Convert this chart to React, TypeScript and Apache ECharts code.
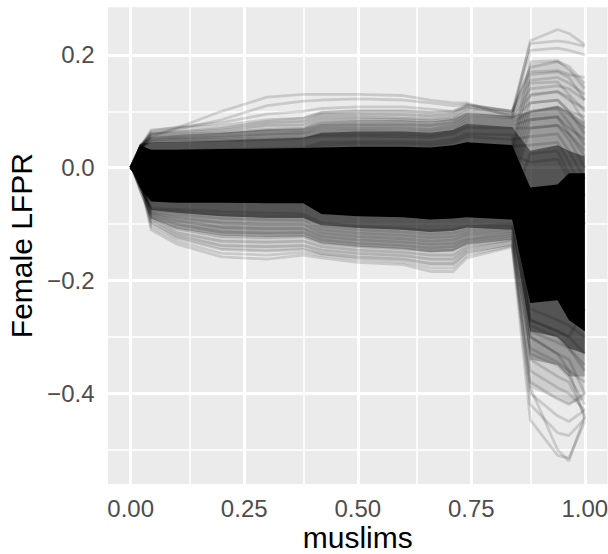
import React, { useEffect, useRef } from "react";
import * as echarts from "echarts";

// x grid of the ICE curves (muslims)
const X = [0, 0.02, 0.045, 0.1, 0.2, 0.3, 0.38, 0.42, 0.5, 0.6, 0.66, 0.71, 0.74, 0.84, 0.88, 0.94, 0.965, 1.0];

const xTicks = [0, 0.25, 0.5, 0.75, 1];
const xMinor = [0.125, 0.375, 0.625, 0.875];
const yTicks = [-0.4, -0.2, 0, 0.2];
const yMinor = [-0.5, -0.3, -0.1, 0.1];

// dense core of the curves (fully dark)
const coreUpper = [0, 0.04, 0.032, 0.032, 0.033, 0.034, 0.035, 0.036, 0.037, 0.037, 0.036, 0.04, 0.045, 0.04, -0.035, -0.03, -0.01, -0.01];
const coreLower = [0, -0.035, -0.06, -0.062, -0.062, -0.063, -0.063, -0.082, -0.086, -0.088, -0.092, -0.09, -0.088, -0.092, -0.24, -0.235, -0.27, -0.29];
// semi-dense halos around the core
const halo1Upper = [0, 0.042, 0.045, 0.046, 0.048, 0.051, 0.053, 0.062, 0.064, 0.064, 0.062, 0.067, 0.078, 0.072, 0.03, 0.04, 0.03, 0.02];
const halo1Lower = [0, -0.04, -0.075, -0.08, -0.086, -0.089, -0.089, -0.102, -0.107, -0.11, -0.114, -0.112, -0.106, -0.11, -0.29, -0.3, -0.32, -0.33];
const halo2Upper = [0, 0.042, 0.055, 0.058, 0.062, 0.068, 0.07, 0.082, 0.084, 0.084, 0.082, 0.087, 0.097, 0.092, 0.1, 0.11, 0.1, 0.08];
const halo2Lower = [0, -0.045, -0.09, -0.108, -0.12, -0.123, -0.122, -0.134, -0.14, -0.144, -0.15, -0.148, -0.136, -0.128, -0.34, -0.35, -0.37, -0.37];
const halo3Upper = [0, 0.042, 0.062, 0.066, 0.072, 0.085, 0.09, 0.1, 0.104, 0.104, 0.1, 0.1, 0.108, 0.1, 0.185, 0.19, 0.175, 0.15];
const halo3Lower = [0, -0.045, -0.1, -0.125, -0.145, -0.148, -0.145, -0.155, -0.162, -0.166, -0.175, -0.175, -0.152, -0.138, -0.39, -0.41, -0.42, -0.41];

// individual curves above the core
const upperCurves = [
  [0, 0.03, 0.055, 0.07, 0.1, 0.125, 0.13, 0.13, 0.13, 0.128, 0.12, 0.115, 0.115, 0.09, 0.225, 0.245, 0.238, 0.218],
  [0, 0.03, 0.06, 0.068, 0.085, 0.11, 0.118, 0.12, 0.122, 0.12, 0.115, 0.11, 0.112, 0.1, 0.22, 0.225, 0.222, 0.215],
  [0, 0.035, 0.065, 0.072, 0.08, 0.095, 0.1, 0.105, 0.108, 0.108, 0.104, 0.1, 0.108, 0.095, 0.208, 0.212, 0.208, 0.2],
  [0, 0.035, 0.067, 0.07, 0.075, 0.085, 0.088, 0.098, 0.1, 0.1, 0.098, 0.1, 0.112, 0.1, 0.178, 0.188, 0.18, 0.15],
  [0, 0.035, 0.062, 0.065, 0.07, 0.08, 0.082, 0.095, 0.095, 0.094, 0.092, 0.095, 0.11, 0.1, 0.17, 0.172, 0.165, 0.16],
  [0, 0.035, 0.06, 0.062, 0.066, 0.075, 0.076, 0.09, 0.09, 0.088, 0.086, 0.09, 0.105, 0.095, 0.155, 0.16, 0.15, 0.13],
  [0, 0.035, 0.058, 0.06, 0.062, 0.068, 0.07, 0.085, 0.086, 0.085, 0.083, 0.086, 0.1, 0.09, 0.14, 0.145, 0.14, 0.12],
  [0, 0.035, 0.055, 0.057, 0.06, 0.065, 0.066, 0.075, 0.076, 0.076, 0.075, 0.08, 0.095, 0.088, 0.128, 0.135, 0.12, 0.105],
  [0, 0.035, 0.052, 0.054, 0.056, 0.06, 0.062, 0.07, 0.07, 0.07, 0.068, 0.075, 0.09, 0.085, 0.115, 0.12, 0.1, 0.09],
  [0, 0.035, 0.05, 0.052, 0.054, 0.058, 0.06, 0.065, 0.066, 0.065, 0.064, 0.07, 0.085, 0.08, 0.1, 0.108, 0.095, 0.07],
  [0, 0.035, 0.048, 0.05, 0.05, 0.053, 0.055, 0.06, 0.06, 0.06, 0.058, 0.065, 0.08, 0.075, 0.085, 0.09, 0.07, 0.05],
  [0, 0.035, 0.046, 0.047, 0.048, 0.05, 0.052, 0.056, 0.056, 0.055, 0.054, 0.06, 0.072, 0.07, 0.07, 0.075, 0.06, 0.03],
];

// individual curves below the core
const lowerCurves = [
  [0, -0.02, -0.11, -0.135, -0.158, -0.162, -0.155, -0.16, -0.168, -0.172, -0.184, -0.184, -0.16, -0.14, -0.447, -0.51, -0.515, -0.45],
  [0, -0.02, -0.105, -0.13, -0.152, -0.155, -0.15, -0.156, -0.163, -0.168, -0.178, -0.178, -0.155, -0.138, -0.39, -0.5, -0.52, -0.44],
  [0, -0.02, -0.1, -0.125, -0.145, -0.148, -0.145, -0.152, -0.158, -0.162, -0.17, -0.17, -0.15, -0.135, -0.42, -0.47, -0.475, -0.445],
  [0, -0.02, -0.095, -0.12, -0.138, -0.14, -0.138, -0.146, -0.152, -0.156, -0.162, -0.162, -0.145, -0.13, -0.4, -0.44, -0.45, -0.43],
  [0, -0.02, -0.09, -0.115, -0.13, -0.132, -0.13, -0.14, -0.146, -0.15, -0.155, -0.155, -0.14, -0.128, -0.38, -0.41, -0.42, -0.4],
  [0, -0.02, -0.088, -0.108, -0.122, -0.124, -0.122, -0.134, -0.14, -0.144, -0.148, -0.146, -0.135, -0.124, -0.36, -0.39, -0.4, -0.43],
  [0, -0.02, -0.085, -0.1, -0.114, -0.116, -0.115, -0.128, -0.134, -0.138, -0.142, -0.14, -0.13, -0.12, -0.34, -0.37, -0.38, -0.44],
  [0, -0.02, -0.082, -0.094, -0.106, -0.108, -0.108, -0.122, -0.128, -0.132, -0.136, -0.134, -0.126, -0.116, -0.32, -0.345, -0.36, -0.445],
  [0, -0.02, -0.08, -0.088, -0.098, -0.1, -0.1, -0.116, -0.122, -0.126, -0.13, -0.128, -0.12, -0.112, -0.3, -0.33, -0.34, -0.4],
  [0, -0.02, -0.078, -0.083, -0.09, -0.092, -0.093, -0.11, -0.116, -0.12, -0.124, -0.122, -0.115, -0.108, -0.29, -0.31, -0.32, -0.36],
  [0, -0.02, -0.075, -0.078, -0.084, -0.086, -0.087, -0.104, -0.11, -0.114, -0.118, -0.116, -0.11, -0.104, -0.27, -0.29, -0.3, -0.33],
  [0, -0.02, -0.072, -0.074, -0.078, -0.08, -0.082, -0.098, -0.104, -0.108, -0.112, -0.11, -0.105, -0.1, -0.25, -0.27, -0.28, -0.3],
];

// curves inside the core that fan out on the right
const middleCurves = [
  [0, 0.035, 0.02, 0.02, 0.022, 0.024, 0.025, 0.03, 0.03, 0.03, 0.028, 0.03, 0.04, 0.035, 0.188, 0.19, 0.175, 0.14],
  [0, 0.03, 0.01, 0.012, 0.014, 0.015, 0.016, 0.02, 0.02, 0.02, 0.018, 0.022, 0.03, 0.028, 0.165, 0.17, 0.16, 0.12],
  [0, 0.025, 0.0, 0.002, 0.004, 0.005, 0.006, 0.01, 0.01, 0.01, 0.008, 0.012, 0.02, 0.018, 0.15, 0.152, 0.13, 0.1],
  [0, 0.02, -0.01, -0.008, -0.006, -0.005, -0.004, 0.0, 0.0, 0.0, -0.002, 0.002, 0.01, 0.008, 0.13, 0.135, 0.125, 0.08],
  [0, 0.015, -0.02, -0.018, -0.016, -0.015, -0.014, -0.01, -0.01, -0.01, -0.012, -0.008, 0.0, -0.002, 0.115, 0.12, 0.1, 0.06],
  [0, 0.01, -0.03, -0.028, -0.026, -0.025, -0.024, -0.02, -0.02, -0.02, -0.022, -0.018, -0.01, -0.012, 0.1, 0.105, 0.08, 0.04],
  [0, 0.005, -0.04, -0.038, -0.036, -0.035, -0.034, -0.03, -0.03, -0.03, -0.032, -0.028, -0.02, -0.022, 0.085, 0.09, 0.06, 0.02],
  [0, 0.0, -0.045, -0.046, -0.046, -0.045, -0.044, -0.045, -0.045, -0.046, -0.048, -0.045, -0.035, -0.035, 0.07, 0.075, 0.05, 0.0],
  [0, 0.03, 0.025, 0.026, 0.027, 0.028, 0.029, 0.04, 0.042, 0.042, 0.04, 0.045, 0.055, 0.05, 0.055, 0.06, 0.03, -0.02],
  [0, 0.025, 0.015, 0.016, 0.017, 0.018, 0.02, 0.03, 0.03, 0.03, 0.028, 0.032, 0.04, 0.038, 0.04, 0.045, 0.01, -0.05],
  [0, -0.005, -0.05, -0.052, -0.053, -0.054, -0.055, -0.065, -0.068, -0.07, -0.072, -0.07, -0.065, -0.065, 0.025, 0.03, -0.01, -0.08],
  [0, 0.02, 0.005, 0.006, 0.008, 0.01, 0.011, 0.015, 0.015, 0.015, 0.013, 0.016, 0.025, 0.022, 0.01, 0.015, -0.02, -0.1],
  [0, 0.03, 0.03, 0.03, 0.032, 0.034, 0.035, 0.045, 0.046, 0.046, 0.045, 0.05, 0.06, 0.058, -0.28, -0.3, -0.32, -0.35],
  [0, 0.02, 0.01, 0.01, 0.012, 0.013, 0.014, 0.02, 0.02, 0.02, 0.018, 0.022, 0.03, 0.028, -0.3, -0.33, -0.36, -0.38],
  [0, 0.01, -0.02, -0.02, -0.02, -0.02, -0.02, -0.03, -0.03, -0.03, -0.032, -0.03, -0.025, -0.025, -0.33, -0.35, -0.37, -0.42],
  [0, -0.01, -0.05, -0.05, -0.05, -0.05, -0.05, -0.06, -0.062, -0.064, -0.066, -0.064, -0.06, -0.06, -0.27, -0.29, -0.3, -0.25],
];

const FONT = "'Liberation Sans', Arial, Helvetica, sans-serif";

function bandSeries(upper: number[], lower: number[], fill: string, z: number) {
  return {
    type: "custom",
    coordinateSystem: "cartesian2d",
    data: [[X[0], upper[0]]],
    silent: true,
    clip: true,
    z,
    renderItem: (_params: any, api: any) => {
      const pts: number[][] = [];
      for (let i = 0; i < X.length; i++) pts.push(api.coord([X[i], upper[i]]));
      for (let i = X.length - 1; i >= 0; i--) pts.push(api.coord([X[i], lower[i]]));
      return { type: "polygon", shape: { points: pts }, style: { fill } };
    },
  };
}

function curveSeries(vals: number[]) {
  return {
    type: "line",
    data: X.map((x, i) => [x, vals[i]]),
    symbol: "none",
    showSymbol: false,
    silent: true,
    clip: true,
    z: 3,
    lineStyle: { color: "rgba(0,0,0,0.14)", width: 2.8 },
  };
}

export default function App() {
  const ref = useRef<HTMLDivElement>(null);
  useEffect(() => {
    document.body.style.margin = "0";
    if (!ref.current) return;
    const chart = echarts.init(ref.current, null, { renderer: "svg" });
    const gridLine = (w: number) => ({ color: "#ffffff", width: w, type: "solid" });
    const option: any = {
      animation: false,
      grid: {
        left: 108,
        right: 0.5,
        top: 7.3,
        bottom: 70,
        containLabel: false,
        outerBoundsMode: "none",
        show: true,
        backgroundColor: "#EBEBEB",
        borderWidth: 0,
      },
      xAxis: {
        type: "value",
        min: -0.05,
        max: 1.05,
        axisLine: { show: false },
        splitLine: { show: false },
        axisTick: { show: true, customValues: xTicks, length: 7.5, lineStyle: { color: "#333333", width: 3 } },
        axisLabel: {
          customValues: xTicks,
          formatter: (v: number) => v.toFixed(2),
          color: "#4D4D4D",
          fontSize: 24,
          fontFamily: FONT,
          margin: 12,
        },
        name: "muslims",
        nameLocation: "middle",
        nameGap: 38,
        nameMoveOverlap: false,
        nameTextStyle: { fontSize: 30, lineHeight: 30, color: "#000000", fontFamily: FONT },
      },
      yAxis: {
        type: "value",
        min: -0.5608,
        max: 0.2844,
        axisLine: { show: false },
        splitLine: { show: false },
        axisTick: { show: true, customValues: yTicks, length: 7.5, lineStyle: { color: "#333333", width: 3 } },
        axisLabel: {
          customValues: yTicks,
          formatter: (v: number) => (v < -1e-9 ? "\u2212" : "") + Math.abs(v).toFixed(1),
          color: "#4D4D4D",
          fontSize: 24,
          fontFamily: FONT,
          margin: 13.5,
        },
        name: "Female LFPR",
        nameLocation: "middle",
        nameGap: 72,
        nameRotate: 90,
        nameTextStyle: { fontSize: 30, color: "#000000", fontFamily: FONT },
      },
      series: [
        {
          type: "line",
          data: [],
          z: 1,
          silent: true,
          markLine: {
            z: 1,
            silent: true,
            symbol: ["none", "none"],
            label: { show: false },
            emphasis: { disabled: true },
            data: [
              ...xMinor.map((v) => ({ xAxis: v, lineStyle: gridLine(1.6) })),
              ...yMinor.map((v) => ({ yAxis: v, lineStyle: gridLine(1.6) })),
              ...xTicks.map((v) => ({ xAxis: v, lineStyle: gridLine(3) })),
              ...yTicks.map((v) => ({ yAxis: v, lineStyle: gridLine(3) })),
            ],
          },
        },
        bandSeries(halo3Upper, halo3Lower, "rgba(0,0,0,0.12)", 2),
        bandSeries(halo2Upper, halo2Lower, "rgba(0,0,0,0.25)", 2),
        bandSeries(halo1Upper, halo1Lower, "rgba(0,0,0,0.45)", 2),
        ...upperCurves.map(curveSeries),
        ...lowerCurves.map(curveSeries),
        ...middleCurves.map(curveSeries),
        bandSeries(coreUpper, coreLower, "#000000", 4),
      ],
    };
    chart.setOption(option);
    return () => chart.dispose();
  }, []);
  return <div ref={ref} style={{ width: 608, height: 554 }} />;
}
